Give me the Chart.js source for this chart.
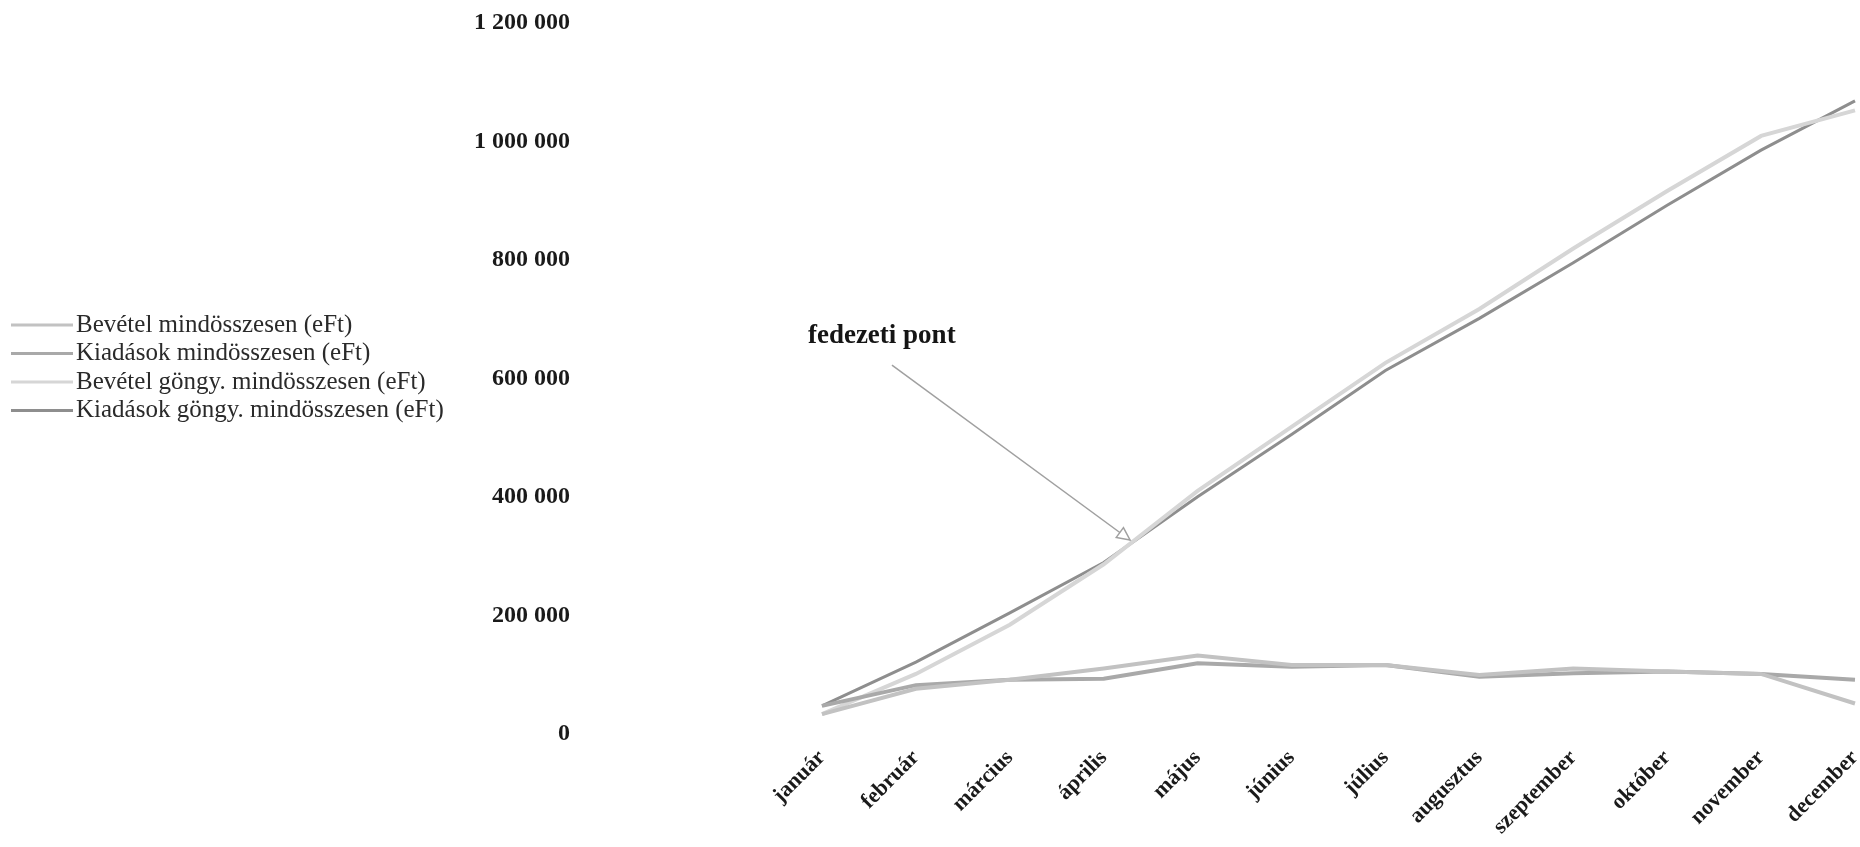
<!DOCTYPE html>
<html lang="hu">
<head>
<meta charset="utf-8">
<title>Bevételek és kiadások (eFt)</title>
<script src="https://cdn.jsdelivr.net/npm/chart.js@4.4.1/dist/chart.umd.min.js"></script>
<style>
  html, body { margin: 0; padding: 0; background: #ffffff; }
  #wrap { position: relative; width: 1860px; height: 847px; }
</style>
</head>
<body>
<div id="wrap"><canvas id="chart"></canvas></div>
<script>
// Hónapok és értéktengely
const months = ['január', 'február', 'március', 'április', 'május', 'június',
                'július', 'augusztus', 'szeptember', 'október', 'november', 'december'];
const yTicks = [0, 200000, 400000, 600000, 800000, 1000000, 1200000];

// Havi bevétel és kiadás (eFt)
const bevetel  = [25000, 68000, 83000, 102000, 124000, 108000, 108000, 91000, 102000, 97000, 93000, 43000];
const kiadasok = [39000, 74000, 83000, 85000, 111000, 105000, 108000, 88000, 94000, 97000, 93000, 83000];

// Göngyölt (halmozott) értékek (eFt)
const bevetelGongy  = [25000, 93000, 176000, 278000, 402000, 510000, 618000, 709000, 811000, 908000, 1001000, 1044000];
const kiadasokGongy = [39000, 113000, 196000, 281000, 392000, 497000, 605000, 693000, 787000, 884000, 977000, 1060000];

const seriesNames = [
  'Bevétel mindösszesen (eFt)',
  'Kiadások mindösszesen (eFt)',
  'Bevétel göngy. mindösszesen (eFt)',
  'Kiadások göngy. mindösszesen (eFt)'
];

// Fedezeti pont jelölése (kategória-index, érték)
const breakEven = {
  text: 'fedezeti pont',
  textAt: [-0.15, 651000],
  tail: [0.745, 614000],
  tip: [3.28, 319000]
};

const SERIF = "'Liberation Serif', 'Times New Roman', serif";

function formatThousands(v) {
  return String(v).replace(/\B(?=(\d{3})+(?!\d))/g, ' ');
}

// Jelmagyarázat a diagram bal oldalán
const sideLegend = {
  id: 'sideLegend',
  afterDraw(chart, args, opts) {
    const ctx = chart.ctx;
    ctx.save();
    ctx.font = opts.font;
    ctx.textBaseline = 'middle';
    ctx.textAlign = 'left';
    chart.data.datasets.forEach((ds, i) => {
      const y = opts.top + i * opts.rowHeight;
      ctx.strokeStyle = ds.borderColor;
      ctx.lineWidth = opts.sampleWidth;
      ctx.beginPath();
      ctx.moveTo(opts.left, y);
      ctx.lineTo(opts.left + opts.sampleLength, y);
      ctx.stroke();
      ctx.fillStyle = opts.color;
      ctx.fillText(ds.label, opts.left + opts.sampleLength + opts.gap, y);
    });
    ctx.restore();
  }
};

// Felirat és nyíl a fedezeti ponthoz
const breakEvenArrow = {
  id: 'breakEvenArrow',
  afterDraw(chart, args, opts) {
    const xs = chart.scales.x, ys = chart.scales.y;
    const px = p => [xs.getPixelForValue(p[0]), ys.getPixelForValue(p[1])];
    const [tx, ty] = px(breakEven.textAt);
    const [ax, ay] = px(breakEven.tail);
    const [bx, by] = px(breakEven.tip);
    const ctx = chart.ctx;
    ctx.save();
    ctx.font = opts.font;
    ctx.fillStyle = opts.color;
    ctx.textBaseline = 'alphabetic';
    ctx.textAlign = 'left';
    ctx.fillText(breakEven.text, tx, ty);

    ctx.strokeStyle = opts.arrowColor;
    ctx.lineWidth = opts.arrowWidth;
    ctx.beginPath();
    ctx.moveTo(ax, ay);
    ctx.lineTo(bx, by);
    ctx.stroke();

    const ang = Math.atan2(by - ay, bx - ax);
    const len = opts.headLength, spread = Math.PI / 7;
    ctx.fillStyle = '#ffffff';
    ctx.beginPath();
    ctx.moveTo(bx, by);
    ctx.lineTo(bx - len * Math.cos(ang - spread), by - len * Math.sin(ang - spread));
    ctx.lineTo(bx - len * Math.cos(ang + spread), by - len * Math.sin(ang + spread));
    ctx.closePath();
    ctx.fill();
    ctx.stroke();
    ctx.restore();
  }
};

const lineStyle = (label, data, color, width) => ({
  label, data,
  borderColor: color,
  backgroundColor: color,
  borderWidth: width,
  pointRadius: 0,
  pointHoverRadius: 0,
  tension: 0,
  fill: false
});

new Chart(document.getElementById('chart'), {
  type: 'line',
  data: {
    labels: months,
    datasets: [
      lineStyle(seriesNames[0], bevetel, '#c2c2c2', 4),
      lineStyle(seriesNames[1], kiadasok, '#a9a9a9', 4),
      lineStyle(seriesNames[2], bevetelGongy, '#d6d6d6', 4),
      lineStyle(seriesNames[3], kiadasokGongy, '#8e8e8e', 3)
    ]
  },
  options: {
    responsive: true,
    maintainAspectRatio: false,
    animation: false,
    devicePixelRatio: 1,
    layout: { padding: { top: 18, right: 5, bottom: 0, left: 0 } },
    plugins: {
      legend: { display: false },
      tooltip: { enabled: false },
      sideLegend: {
        left: 11, top: 325, rowHeight: 28.5,
        sampleLength: 62, sampleWidth: 3, gap: 3,
        font: "25px " + SERIF, color: '#2a2a2a'
      },
      breakEvenArrow: {
        font: "bold 27px " + SERIF, color: '#151515',
        arrowColor: '#a0a0a0', arrowWidth: 1.5, headLength: 14
      }
    },
    scales: {
      x: {
        grid: { display: false, drawTicks: false },
        border: { display: false },
        ticks: {
          autoSkip: false,
          maxRotation: 45,
          minRotation: 45,
          padding: 16,
          color: '#1a1a1a',
          font: { family: SERIF, size: 22, weight: 'bold' }
        },
        afterFit(scale) {
          scale.height = 118;
          scale.paddingLeft = 0;
          scale.paddingRight = 0;
        }
      },
      y: {
        min: 0,
        max: 1200000,
        grid: { display: false, drawTicks: false },
        border: { display: false },
        afterBuildTicks(scale) {
          scale.ticks = yTicks.map(v => ({ value: v }));
        },
        ticks: {
          padding: 252,
          labelOffset: 5,
          color: '#1a1a1a',
          font: { family: SERIF, size: 24, weight: 'bold' },
          callback: v => formatThousands(v)
        },
        afterFit(scale) {
          scale.width = 822;
          scale.paddingTop = 0;
          scale.paddingBottom = 0;
        }
      }
    }
  },
  plugins: [sideLegend, breakEvenArrow]
});
</script>
</body>
</html>
